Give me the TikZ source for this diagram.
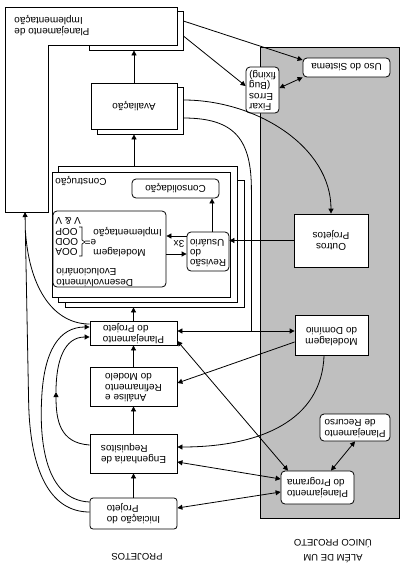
\documentclass[tikz,border=0pt]{standalone}
\usepackage{fontspec}
\setmainfont{Liberation Sans}
\usetikzlibrary{arrows.meta,calc}
\newcommand\tb[2][c]{\begin{tabular}{@{}#1@{}}#2\end{tabular}}
\begin{document}
\begin{tikzpicture}[x=1pt,y=-1pt,line width=0.8pt,
  font=\fontsize{10}{11}\selectfont,
  sz/.style 2 args={minimum width=#1pt,minimum height=#2pt},
  frame/.style={draw,fill=white,inner sep=0pt},
  box/.style={frame,rotate=180},
  rbox/.style={box,rounded corners=4pt},
  txt/.style={inner sep=0pt,rotate=180},
  arr/.style={-{Triangle[length=5pt,width=5pt]}},
  darr/.style={{Triangle[length=5pt,width=5pt]}-{Triangle[length=5pt,width=5pt]}}]
\useasboundingbox (0,0) rectangle (405,570);
% grey region
\node[draw,fill=black!25,inner sep=0pt,sz={139}{471}] (bg) at (329.5,282.5) {};
% Planejamento de Implementacao
\node[frame,sz={94}{39}] (implsh) at (136,30.5) {};
\draw[fill=white] (5,7) -- (177,7) -- (177,45) -- (48,45) -- (48,212) -- (5,212) -- cycle;
\coordinate (implB) at (25,212);
\node[txt,anchor=east] (implT) at (14,25) {\tb[r]{Planejamento de\\Implementação}};
% Avaliacao
\node[frame,sz={86}{47}] (avsh) at (140,110.5) {};
\node[box,sz={86}{46}] (av) at (134,106) {Avaliação};
% Construcao
\node[frame,sz={179}{127}] (cs2) at (154.5,243.5) {};
\node[frame,sz={179}{136}] (cs1) at (147.5,234) {};
\node[frame,sz={178}{125}] (cfront) at (141,234.5) {};
\node[txt,anchor=east] (clab) at (55,181) {Construção};
\node[rbox,sz={87}{19}] (cons) at (175.5,188.5) {Consolidação};
\node[frame,rounded corners=4pt,sz={113}{76}] (dev) at (109.5,249) {};
\node[txt,anchor=east] (vv) at (55,221) {V \& V};
\node[txt,anchor=east] (oop) at (55,232) {OOP};
\node[txt,anchor=east] (ood) at (55,242) {OOD};
\node[txt,anchor=east] (ooa) at (55,252) {OOA};
\draw[line width=0.6pt] (79,227) -- (82,227) -- (82,240) -- (85,242) -- (82,244) -- (82,256) -- (79,256);
\node[txt] (eq) at (90.5,242) {e=};
\node[txt,anchor=east] (impt) at (93,232) {Implementação};
\node[txt,anchor=east] (modt) at (93,252) {Modelagem};
\node[txt,anchor=east] (devt) at (56,276) {\tb[r]{Desenvolvimento\\Evolucionário}};
\node[rbox,sz={42}{39},font=\fontsize{10}{10}\selectfont] (rev) at (208,251.5) {\tb[r]{Revisão\\do\\Usuário}};
\node[txt] (x3) at (179,244) {3x};
% right side
\node[box,sz={74}{53}] (outros) at (331,240.5) {\tb{Outros\\Projetos}};
\node[box,sz={73}{40}] (moddom) at (331.5,335) {\tb{Modelagem\\do Domínio}};
\node[rbox,sz={87}{19}] (uso) at (346.5,67.5) {Uso do Sistema};
\node[rbox,sz={33}{46},font=\fontsize{10}{10.5}\selectfont] (fix) at (262.5,90) {\tb[r]{Fixar\\Erros\\(Bug\\fixing)}};
\node[rbox,sz={70}{27}] (rec) at (355,427.5) {\tb[r]{Planejamento\\de Recurso}};
\node[rbox,sz={73}{33}] (prog) at (317.5,487.5) {\tb[r]{Planejamento\\do Programa}};
% left column
\node[box,sz={87}{24}] (proj) at (133.5,333) {\tb[r]{Planejamento\\do Projeto}};
\node[box,sz={87}{39},font=\fontsize{10}{10.5}\selectfont] (ana) at (133.5,386.5) {\tb[r]{Análise e\\Refinamento\\do Modelo}};
\node[box,sz={87}{39}] (eng) at (133.5,453.5) {\tb[r]{Engenharia de\\Requisitos}};
\node[box,rounded corners=3pt,sz={87}{31}] (ini) at (133.5,513.5) {\tb[r]{Iniciação do\\Projeto}};
% labels
\node[txt,font=\fontsize{9.5}{11}\selectfont] (projl) at (137,557) {PROJETOS};
\node[txt,font=\fontsize{9.5}{15}\selectfont] (alem) at (333,550) {\tb{ALÉM DE UM\\ÚNICO PROJETO}};
% vertical flow (rotated nodes: .south = image top, .north = image bottom, .east = image left, .west = image right)
\draw[arr] (ini.south) -- (eng.north);
\draw[arr] (eng.south) -- (ana.north);
\draw[arr] (ana.south) -- (proj.north);
\draw[arr] (proj.south) -- (proj.south |- cs2.south);
\draw[arr] (av.center |- cs1.north) -- (av.center |- avsh.south);
\draw[arr] (av.south) -- (av.south |- implsh.south);
% inside construcao
\coordinate (r1) at ($(rev.south)+(4,0)$);
\draw[arr] (r1) -- (r1 |- cons.north);
\coordinate (d1) at ($(dev.east)+(0,5)$);
\draw[arr] (d1) -- (d1 -| rev.east);
\coordinate (d2) at ($(rev.east)+(0,-15.5)$);
\draw[arr] (d2) -- (d2 -| dev.east);
\draw[arr] (outros.east) -- (outros.east -| rev.west);
% right connections
\coordinate (p1) at ($(proj.west)+(0,-2)$);
\draw[darr] (p1) -- (p1 -| moddom.east);
\coordinate (m1) at ($(moddom.east)+(0,7)$);
\coordinate (a1) at ($(ana.west)+(0,-3.5)$);
\draw[arr] (m1) -- (a1);
\coordinate (m2) at ($(moddom.north)+(-7.5,0)$);
\coordinate (e1) at ($(eng.west)+(0,-6.5)$);
\draw[arr] (m2) .. controls ($(m2)+(-2,65)$) and ($(e1)+(83,0)$) .. (e1);
\coordinate (e2) at ($(eng.west)+(0,8.5)$);
\coordinate (g1) at ($(prog.east)+(0,-8.5)$);
\draw[darr] (e2) -- (g1);
\coordinate (i1) at ($(ini.west)+(0,-5.5)$);
\coordinate (g2) at ($(prog.east)+(0,4.5)$);
\draw[darr] (i1) -- (g2);
\coordinate (p2) at ($(proj.west)+(0,8)$);
\coordinate (g3) at ($(prog.south)+(-29.5,0)$);
\draw[darr] (p2) -- (g3);
\coordinate (g4) at ($(prog.south)+(13.5,0)$);
\draw[darr] (rec.north) -- (g4);
\coordinate (s1) at ($(implsh.east)+(0,-9.5)$);
\coordinate (u1) at ($(uso.east)+(0,-7.5)$);
\draw[arr] (s1) -- (u1);
\coordinate (s2) at ($(implsh.east)+(0,5.5)$);
\coordinate (f1) at ($(fix.east)+(0,-4)$);
\draw[arr] (s2) -- (f1);
\coordinate (f2) at ($(fix.west)+(0,-2)$);
\draw[darr] (f2) -- (uso.north east);
\coordinate (v1) at ($(avsh.east)+(0,-10.5)$);
\draw[arr] (v1) .. controls ($(v1)+(73,0)$) and ($(outros.south)+(0,-67)$) .. (outros.south);
\coordinate (v2) at ($(avsh.east)+(0,7.5)$);
\coordinate (j1) at ($(p1)+(74,0)$);
\draw (v2) .. controls ($(v2)+(52,0)$) and ($(j1)+(0,-191)$) .. ($(j1)+(0,-141)$) -- (j1);
% left loops
\coordinate (i2) at ($(ini.east)+(0,-1.5)$);
\draw[arr] (i2) .. controls ($(i2)+(-40,0)$) and ($(i2)+(-60,-42)$) .. ($(i2)+(-61,-112)$) -- (implB);
\coordinate (aj) at (25.5,232);
\coordinate (p3) at ($(proj.east)+(0,-9)$);
\draw (aj) .. controls ($(aj)+(4,58)$) and ($(p3)+(-35,0)$) .. (p3);
\coordinate (i3) at ($(ini.east)+(0,-11.5)$);
\coordinate (p4) at ($(proj.east)+(0,-6)$);
\draw[arr] (i3) .. controls ($(i3)+(-45,-2)$) and ($(i3)+(-50,-62)$) .. ($(i3)+(-48,-102)$) .. controls ($(i3)+(-46,-152)$) and ($(p4)+(-30,0)$) .. (p4);
\coordinate (e3) at ($(eng.east)+(0,-8.5)$);
\coordinate (cm) at (56,392);
\coordinate (p5) at ($(proj.east)+(0,4)$);
\draw[arr] (e3) .. controls ($(e3)+(-30,-2)$) and ($(cm)+(0,28)$) .. (cm);
\draw[arr] (cm) .. controls ($(cm)+(0,-32)$) and ($(p5)+(-25,0)$) .. (p5);
\end{tikzpicture}
\end{document}
